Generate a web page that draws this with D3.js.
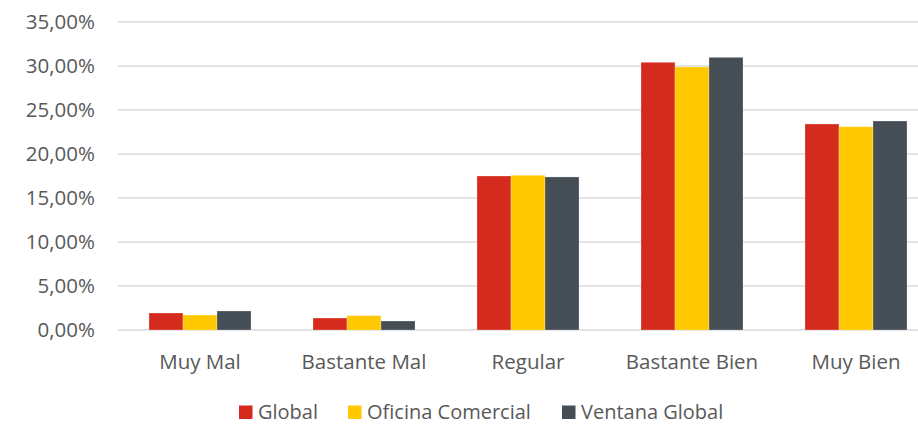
<!DOCTYPE html>
<html>
<head>
<meta charset="utf-8">
<script src="https://d3js.org/d3.v7.min.js"></script>
<style>
  body { margin: 0; background: #fff; }
  text { font-family: 'Open Sans', sans-serif; fill: #595959; font-variant-ligatures: none; }
</style>
</head>
<body>
<div id="vis"></div>
<script>
const categories = ['Muy Mal', 'Bastante Mal', 'Regular', 'Bastante Bien', 'Muy Bien'];
const seriesNames = ['Global', 'Oficina Comercial', 'Ventana Global'];
const globalValues = [1.93, 1.36, 17.50, 30.42, 23.41];
const oficinaValues = [1.70, 1.63, 17.58, 29.89, 23.10];
const ventanaValues = [2.16, 1.02, 17.39, 30.98, 23.75];
const yTicks = [0, 5, 10, 15, 20, 25, 30, 35];
const colors = ['#D52B1E', '#FFC800', '#454D55'];

const width = 918, height = 424;
const svg = d3.select('#vis').append('svg').attr('width', width).attr('height', height);

const x = d3.scaleBand().domain(categories).range([118, 938]).paddingInner(0.378).paddingOuter(0.189);
const xs = d3.scaleBand().domain(seriesNames).range([0, x.bandwidth()]);
const y = d3.scaleLinear().domain([0, 35]).range([330, 22]);

// gridlines
svg.append('g')
  .selectAll('line')
  .data(yTicks)
  .join('line')
  .attr('x1', 118).attr('x2', width)
  .attr('y1', d => y(d)).attr('y2', d => y(d))
  .attr('stroke', '#d9d9d9').attr('stroke-width', 1.3);

// y labels
const fmt = d => d.toFixed(2).replace('.', ',') + '%';
svg.append('g')
  .selectAll('text')
  .data(yTicks)
  .join('text')
  .attr('x', 95).attr('y', d => y(d))
  .attr('dy', '0.36em')
  .attr('text-anchor', 'end')
  .style('font-size', '20.5px')
  .text(fmt);

const series = [globalValues, oficinaValues, ventanaValues];
series.forEach((vals, i) => {
  svg.append('g')
    .selectAll('rect')
    .data(vals)
    .join('rect')
    .attr('x', (d, j) => x(categories[j]) + xs(seriesNames[i]))
    .attr('y', d => y(d))
    .attr('width', xs.bandwidth())
    .attr('height', d => y(0) - y(d))
    .attr('fill', colors[i])
    .attr('stroke', 'rgba(255,255,255,0.25)')
    .attr('stroke-width', 1);
});

// x labels
svg.append('g')
  .selectAll('text')
  .data(categories)
  .join('text')
  .attr('x', d => x(d) + x.bandwidth() / 2)
  .attr('y', 369)
  .attr('text-anchor', 'middle')
  .style('font-size', '20.5px')
  .text(d => d);

// legend
const legendX = [239, 348, 562];
const lg = svg.append('g');
seriesNames.forEach((name, i) => {
  lg.append('rect').attr('x', legendX[i]).attr('y', 405.5).attr('width', 13.5).attr('height', 13.5).attr('fill', colors[i]);
  lg.append('text').attr('x', legendX[i] + 19).attr('y', 418.5).style('font-size', '20px').text(name);
});
</script>
</body>
</html>
